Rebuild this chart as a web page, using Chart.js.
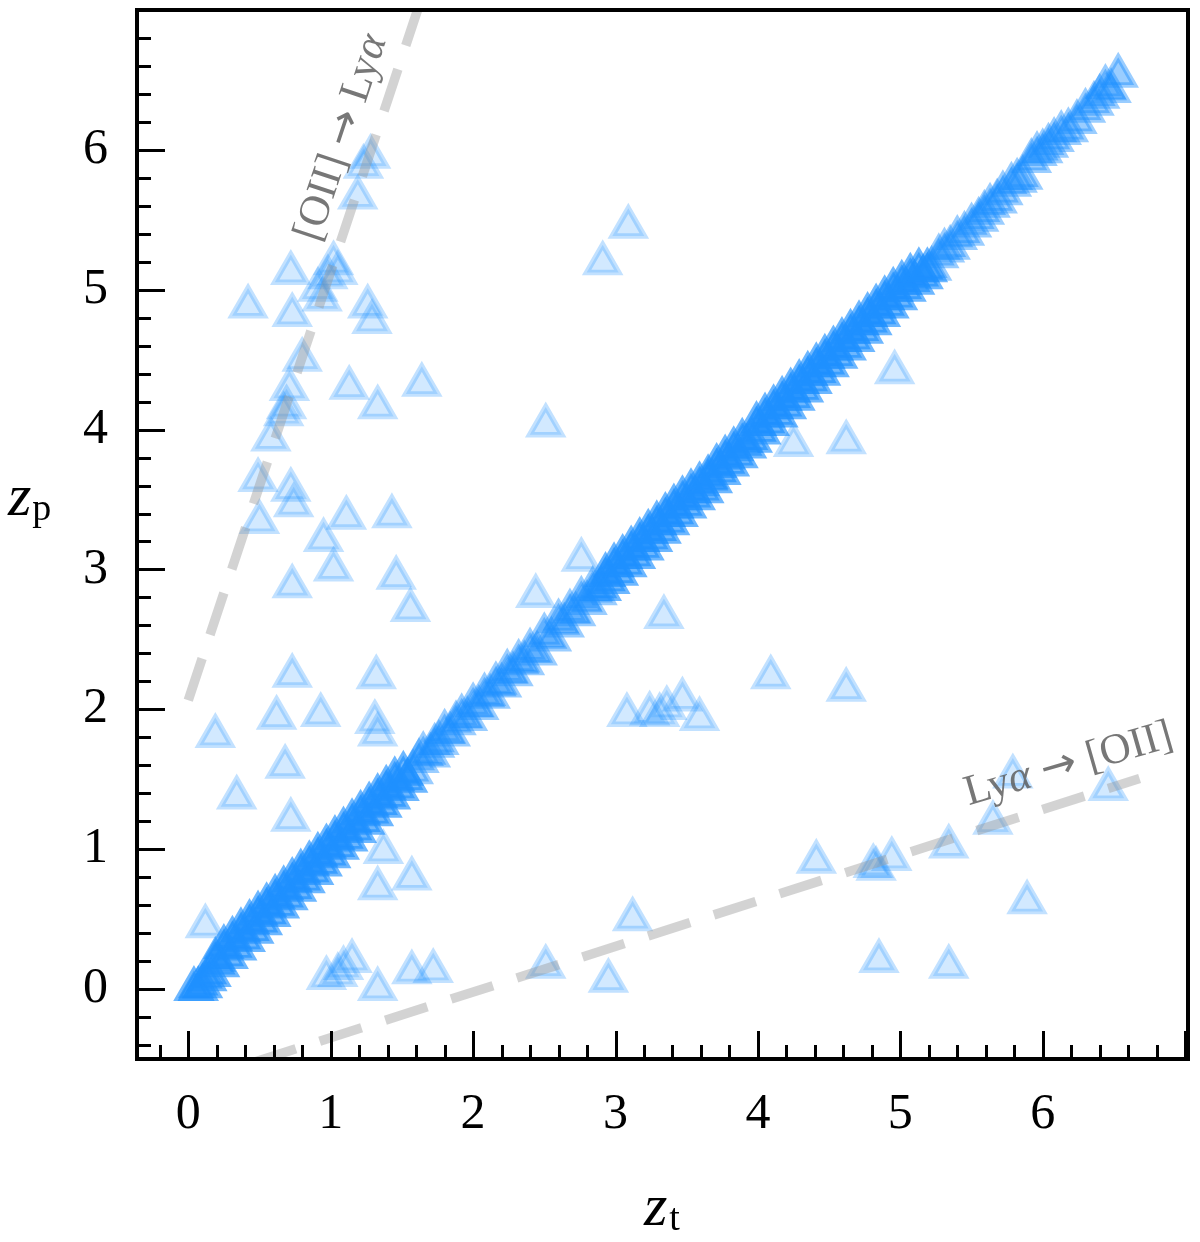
<!DOCTYPE html>
<html>
<head>
<meta charset="utf-8">
<script src="https://cdn.jsdelivr.net/npm/chart.js@4.4.1/dist/chart.umd.min.js"></script>
<style>
html,body{margin:0;padding:0;background:#fff;}
canvas{display:block;}
</style>
</head>
<body>
<canvas id="c" width="1200" height="1242" style="width:1200px;height:1242px"></canvas>
<script>
// ---- tick labels ----
const xTickValues = [0, 1, 2, 3, 4, 5, 6];
const yTickValues = [0, 1, 2, 3, 4, 5, 6];

// ---- densest parts of the diagonal band (z_t, z_p) ----
const denseZt = [
 0.04,0.07,0.10,0.13,0.16,0.19,0.22,0.25,0.28,0.31,0.34,0.37,0.40,0.43,0.46,0.49,0.52,0.55,0.58,0.61,
 0.64,0.67,0.70,0.73,0.76,0.79,0.82,0.85,0.88,0.91,0.94,0.97,1.00,1.03,1.06,1.09,1.12,1.15,1.18,1.21,
 1.24,1.27,1.30,1.33,1.36,1.39,1.42,1.45,1.48,1.51,1.54,
 2.90,2.93,2.96,2.99,3.02,3.05,3.08,3.11,3.14,3.17,3.20,3.23,3.26,3.29,3.32,3.35,3.38,3.41,3.44,3.47,
 3.50,3.53,3.56,3.59,3.62,
 3.65,3.68,3.71,3.74,3.77,3.80,3.83,3.86,3.89,3.92,
 3.96,3.99,4.02,4.05,4.08,4.11,4.14,4.17,4.20,4.23,4.26,4.29,4.32,4.35,4.38,4.41,4.44,4.47,4.50,4.53,
 4.56,4.59,4.62,4.65,4.68,4.71,4.74,4.77,4.80,4.83,4.86,4.89,4.92,4.95,4.98,5.01,5.04,5.07,5.10,5.13,
 5.16,5.19
];
const denseZp = [
 0.00,0.00,0.02,0.07,0.10,0.21,0.17,0.30,0.23,0.36,0.29,0.42,0.35,0.48,0.41,0.54,0.47,0.60,0.53,0.66,
 0.59,0.72,0.65,0.78,0.71,0.84,0.77,0.90,0.83,0.96,0.89,1.02,0.95,1.08,1.01,1.14,1.07,1.20,1.13,1.26,
 1.19,1.32,1.25,1.38,1.31,1.44,1.37,1.50,1.43,1.54,1.49,
 2.86,2.96,2.91,3.03,2.97,3.09,3.03,3.15,3.09,3.21,3.15,3.27,3.21,3.33,3.27,3.39,3.33,3.45,3.39,3.51,
 3.45,3.56,3.51,3.61,3.56,
 3.66,3.63,3.74,3.69,3.80,3.75,3.86,3.81,3.92,3.88,
 3.92,4.04,3.98,4.10,4.04,4.16,4.10,4.22,4.16,4.28,4.22,4.34,4.28,4.40,4.34,4.46,4.40,4.52,4.46,4.58,
 4.52,4.64,4.58,4.70,4.64,4.76,4.70,4.82,4.76,4.88,4.82,4.94,4.88,5.00,4.94,5.05,5.00,5.10,5.05,5.14,
 5.09,5.14
];

// ---- less dense parts of the diagonal band (z_t, z_p) ----
const sparseZt = [
 1.58,1.62,1.65,1.70,1.73,1.76,1.80,1.84,1.88,1.92,1.96,2.00,2.04,2.08,2.12,2.16,2.20,2.24,2.28,2.32,
 2.36,2.40,2.45,2.50,2.55,2.60,2.64,2.68,2.72,2.76,2.80,2.84,2.87,
 5.22,5.27,5.31,5.35,5.40,5.45,5.50,5.55,5.59,5.63,5.68,5.72,5.78,5.82,5.86,5.92,5.96,6.00,6.04,6.08,
 6.13,6.18,6.24,6.30,6.36,6.40,6.44,6.48,6.53
];
const sparseZp = [
 1.55,1.63,1.68,1.67,1.74,1.76,1.84,1.82,1.90,1.95,1.93,2.03,2.01,2.10,2.09,2.18,2.17,2.27,2.25,2.34,
 2.33,2.42,2.40,2.53,2.50,2.63,2.60,2.70,2.68,2.79,2.76,2.86,2.83,
 5.15,5.24,5.28,5.30,5.37,5.40,5.46,5.50,5.55,5.60,5.63,5.69,5.75,5.78,5.80,5.92,5.97,5.99,6.03,6.07,
 6.12,6.14,6.20,6.28,6.33,6.38,6.45,6.42,6.53
];

// ---- catastrophic outliers (z_t, z_p) ----
const outZt = [
 0.42,0.72,0.73,0.94,0.98,1.02,1.05,0.91,1.19,1.23,1.28,1.26,1.29,0.80,0.71,0.69,0.67,0.58,0.49,0.72,
 0.74,0.50,1.13,1.33,1.64,0.95,1.11,1.02,1.43,1.46,1.56,0.73,0.73,1.32,0.62,0.93,1.31,1.33,0.19,0.34,
 0.68,0.72,1.37,1.33,1.57,0.12,0.97,1.05,1.09,1.15,1.33,1.57,1.72,
 2.51,2.91,3.09,2.76,2.44,3.34,3.08,3.24,3.31,3.36,3.47,3.59,2.51,2.95,3.12,4.09,4.62,4.25,4.62,4.96,
 4.41,4.81,4.83,4.94,4.85,5.34,5.34,5.65,5.79,6.46,5.89
];
const outZp = [
 4.88,5.12,4.82,4.93,5.09,5.19,5.12,5.00,5.66,5.88,5.95,4.88,4.77,4.50,4.29,4.16,4.11,3.93,3.64,3.57,
 3.46,3.34,4.30,4.16,4.32,3.21,3.37,3.00,3.38,2.94,2.71,2.88,2.24,2.23,1.94,1.96,1.91,1.82,1.81,1.37,
 1.59,1.21,0.98,0.72,0.79,0.45,0.08,0.10,0.15,0.20,0.00,0.12,0.13,
 4.03,5.19,5.45,3.07,2.81,2.66,1.96,1.97,1.96,2.01,2.07,1.93,0.16,0.06,0.50,2.23,2.14,3.89,3.91,4.41,
 0.91,0.88,0.86,0.93,0.20,1.02,0.16,1.19,1.52,1.43,0.62
];

// ---- line-confusion tracks ----
const oiiToLyaZt = [0, 1.70];
const oiiToLyaZp = [2.065, 7.276];
const lyaToOiiZt = [0, 6.68];
const lyaToOiiZp = [-0.674, 1.506];

// label pieces: [text, style]
const labelOiiToLya = [['[OII]', 'r'], ['\u2192', 'a'], ['Ly', 'r'], ['\u03b1', 'i']];
const labelLyaToOii = [['Ly', 'r'], ['\u03b1', 'i'], ['\u2192', 'a'], ['[OII]', 'r']];

const toPts = (xs, ys) => xs.map((x, i) => ({x: x, y: ys[i]}));

const SERIF = '"Liberation Serif", "DejaVu Serif", serif';

function pieceFont(style, fs) {
  if (style === 'a') return fs + 'px "DejaVu Sans", sans-serif';
  if (style === 'i') return 'italic ' + fs + 'px ' + SERIF;
  return fs + 'px ' + SERIF;
}

function drawPieces(ctx, pieces, cx, cy, ang, fs) {
  const gap = fs * 0.26;
  const widths = pieces.map(p => { ctx.font = pieceFont(p[1], fs); return ctx.measureText(p[0]).width; });
  let total = 0;
  pieces.forEach((p, i) => {
    total += widths[i];
    if (i < pieces.length - 1 && (p[1] === 'a' || pieces[i + 1][1] === 'a')) total += gap;
  });
  ctx.save();
  ctx.translate(cx, cy);
  ctx.rotate(ang);
  ctx.textAlign = 'left';
  ctx.textBaseline = 'alphabetic';
  let x = -total / 2;
  const base = fs * 0.33;
  pieces.forEach((p, i) => {
    ctx.font = pieceFont(p[1], fs);
    ctx.fillText(p[0], x, base);
    x += widths[i];
    if (i < pieces.length - 1 && (p[1] === 'a' || pieces[i + 1][1] === 'a')) x += gap;
  });
  ctx.restore();
}

const framePlugin = {
  id: 'frame',
  afterDatasetsDraw(chart) {
    const ctx = chart.ctx;
    ctx.save();
    ctx.fillStyle = 'rgba(95,95,95,0.85)';
    drawPieces(ctx, labelOiiToLya, 339, 137, -71.5 * Math.PI / 180, 43);
    drawPieces(ctx, labelLyaToOii, 1068, 762, -16 * Math.PI / 180, 43);
    ctx.restore();
  },
  afterDraw(chart) {
    const ctx = chart.ctx, a = chart.chartArea;
    const xs = chart.scales.x, ys = chart.scales.y;
    ctx.save();
    ctx.strokeStyle = '#000';
    ctx.lineWidth = 3;
    ctx.lineCap = 'butt';
    for (let k = -5; k <= 40; k++) {
      const v = k / 5;
      if (v <= xs.min || v >= xs.max) continue;
      const px = Math.round(xs.getPixelForValue(v)) + 0.5;
      const len = (k % 5 === 0) ? 28 : 14;
      ctx.beginPath(); ctx.moveTo(px, a.bottom); ctx.lineTo(px, a.bottom - len); ctx.stroke();
    }
    for (let k = -5; k <= 40; k++) {
      const v = k / 5;
      if (v <= ys.min || v >= ys.max) continue;
      const py = Math.round(ys.getPixelForValue(v)) + 0.5;
      const len = (k % 5 === 0) ? 28 : 14;
      ctx.beginPath(); ctx.moveTo(a.left, py); ctx.lineTo(a.left + len, py); ctx.stroke();
    }
    ctx.lineWidth = 4;
    ctx.strokeRect(a.left, a.top, a.right - a.left, a.bottom - a.top);
    // axis titles
    ctx.fillStyle = '#000';
    ctx.textAlign = 'left';
    ctx.textBaseline = 'alphabetic';
    ctx.font = 'italic 60px ' + SERIF;
    ctx.fillText('z', 8, 515);
    let wz = ctx.measureText('z').width;
    ctx.font = '38px ' + SERIF;
    ctx.fillText('p', 8 + wz + 1, 520);
    ctx.font = 'italic 60px ' + SERIF;
    ctx.fillText('z', 644, 1225);
    wz = ctx.measureText('z').width;
    ctx.font = '38px ' + SERIF;
    ctx.fillText('t', 644 + wz + 2, 1230);
    ctx.restore();
  }
};

const faceCol = 'rgba(30,144,255,0.2)';
const edgeCol = 'rgba(30,144,255,0.27)';
const midFace = 'rgba(30,144,255,0.45)';
const midEdge = 'rgba(30,144,255,0.45)';
const denseFace = 'rgba(30,144,255,0.65)';
const denseEdge = 'rgba(30,144,255,0.65)';
const lineCol = 'rgba(150,150,150,0.42)';
const R = 18.5, BW = 5.5;

new Chart(document.getElementById('c'), {
  type: 'scatter',
  data: {
    datasets: [
      { type: 'line', data: toPts(oiiToLyaZt, oiiToLyaZp), borderColor: lineCol, borderWidth: 9.5,
        borderDash: [44, 25], borderCapStyle: 'butt', pointRadius: 0, fill: false, tension: 0, order: 0 },
      { type: 'line', data: toPts(lyaToOiiZt, lyaToOiiZp), borderColor: lineCol, borderWidth: 9.5,
        borderDash: [44, 25], borderCapStyle: 'butt', pointRadius: 0, fill: false, tension: 0, order: 0 },
      { data: toPts(denseZt, denseZp), pointStyle: 'triangle', pointRadius: R, borderWidth: BW,
        backgroundColor: denseFace, borderColor: denseEdge, order: 1 },
      { data: toPts(sparseZt, sparseZp), pointStyle: 'triangle', pointRadius: R, borderWidth: BW,
        backgroundColor: midFace, borderColor: midEdge, order: 2 },
      { data: toPts(outZt, outZp), pointStyle: 'triangle', pointRadius: R, borderWidth: BW,
        backgroundColor: faceCol, borderColor: edgeCol, order: 3 }
    ]
  },
  options: {
    responsive: false,
    animation: false,
    devicePixelRatio: 1,
    events: [],
    layout: { autoPadding: false, padding: { top: 10, right: 12, left: 0, bottom: 0 } },
    plugins: { legend: { display: false }, tooltip: { enabled: false } },
    scales: {
      x: {
        type: 'linear', min: -0.36, max: 7.02,
        afterBuildTicks: s => { s.ticks = xTickValues.map(v => ({ value: v })); },
        afterFit: s => { s.height = 183; s.paddingLeft = 0; s.paddingRight = 0; },
        grid: { display: false, drawTicks: false },
        border: { display: false },
        ticks: { font: { family: SERIF, size: 50 }, color: '#000', padding: 26,
                 maxRotation: 0, autoSkip: false, callback: v => String(v) }
      },
      y: {
        type: 'linear', min: -0.5, max: 7.0,
        afterBuildTicks: s => { s.ticks = yTickValues.map(v => ({ value: v })); },
        afterFit: s => { s.width = 137; s.paddingTop = 0; s.paddingBottom = 0; },
        grid: { display: false, drawTicks: false },
        border: { display: false },
        ticks: { font: { family: SERIF, size: 50 }, color: '#000', padding: 29,
                 autoSkip: false, callback: v => String(v) }
      }
    }
  },
  plugins: [framePlugin]
});
</script>
</body>
</html>
